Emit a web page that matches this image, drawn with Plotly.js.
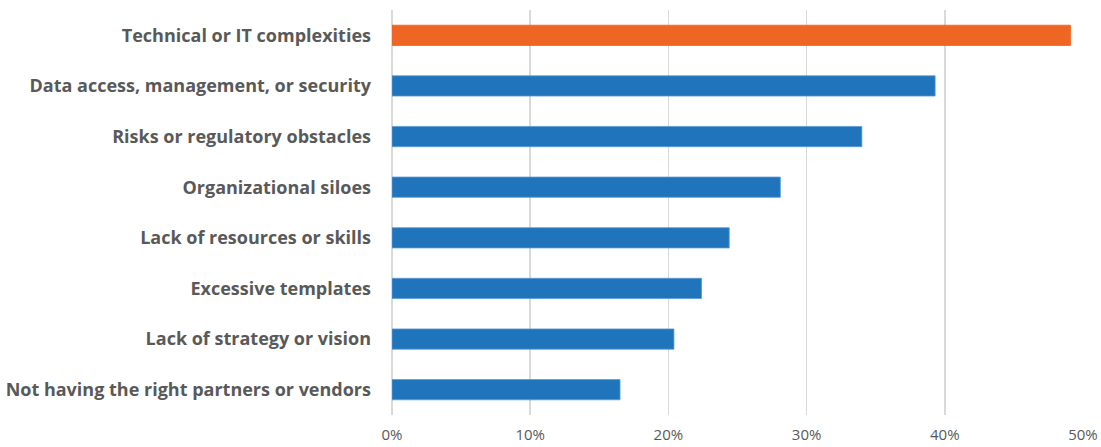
<!DOCTYPE html>
<html>
<head>
<meta charset="utf-8">
<script src="https://cdn.plot.ly/plotly-3.0.1.min.js"></script>
<style>html,body{margin:0;padding:0;background:#fff;}#chart{width:1101px;height:447px;}</style>
</head>
<body>
<div id="chart"></div>
<script>
const categories = [
  "Technical or IT complexities",
  "Data access, management, or security",
  "Risks or regulatory obstacles",
  "Organizational siloes",
  "Lack of resources or skills",
  "Excessive templates",
  "Lack of strategy or vision",
  "Not having the right partners or vendors"
];
const values = [0.491, 0.393, 0.340, 0.281, 0.244, 0.224, 0.204, 0.165];
const barColors = ["#EF6523", "#1F74BB", "#1F74BB", "#1F74BB", "#1F74BB", "#1F74BB", "#1F74BB", "#1F74BB"];
const lineColors = ["#EF6523", "#5B9BD5", "#5B9BD5", "#5B9BD5", "#5B9BD5", "#5B9BD5", "#5B9BD5", "#5B9BD5"];

const trace = {
  type: "bar",
  orientation: "h",
  x: values,
  y: categories,
  marker: { color: barColors, line: { color: lineColors, width: 0.8 } },
  hoverinfo: "none"
};

const layout = {
  width: 1101,
  height: 447,
  margin: { l: 392, r: 18, t: 10, b: 32 },
  paper_bgcolor: "#ffffff",
  plot_bgcolor: "#ffffff",
  bargap: 0.6,
  showlegend: false,
  font: { family: "'Open Sans', sans-serif", color: "#595959" },
  xaxis: {
    range: [0, 0.5],
    dtick: 0.1,
    tick0: 0,
    tickformat: ".0%",
    showgrid: true,
    gridcolor: "#D9D9D9",
    gridwidth: 1.5,
    zeroline: true,
    zerolinecolor: "#D9D9D9",
    zerolinewidth: 1.5,
    showline: false,
    ticks: "",
    ticklabelstandoff: 9,
    tickfont: { size: 15, color: "#595959" },
    fixedrange: true
  },
  yaxis: {
    type: "category",
    autorange: "reversed",
    showgrid: false,
    zeroline: false,
    showline: false,
    ticks: "",
    ticklabelstandoff: 20,
    tickfont: { size: 18, color: "#595959", weight: "bold" },
    fixedrange: true
  }
};

Plotly.newPlot("chart", [trace], layout, { displayModeBar: false, staticPlot: true });
</script>
</body>
</html>
